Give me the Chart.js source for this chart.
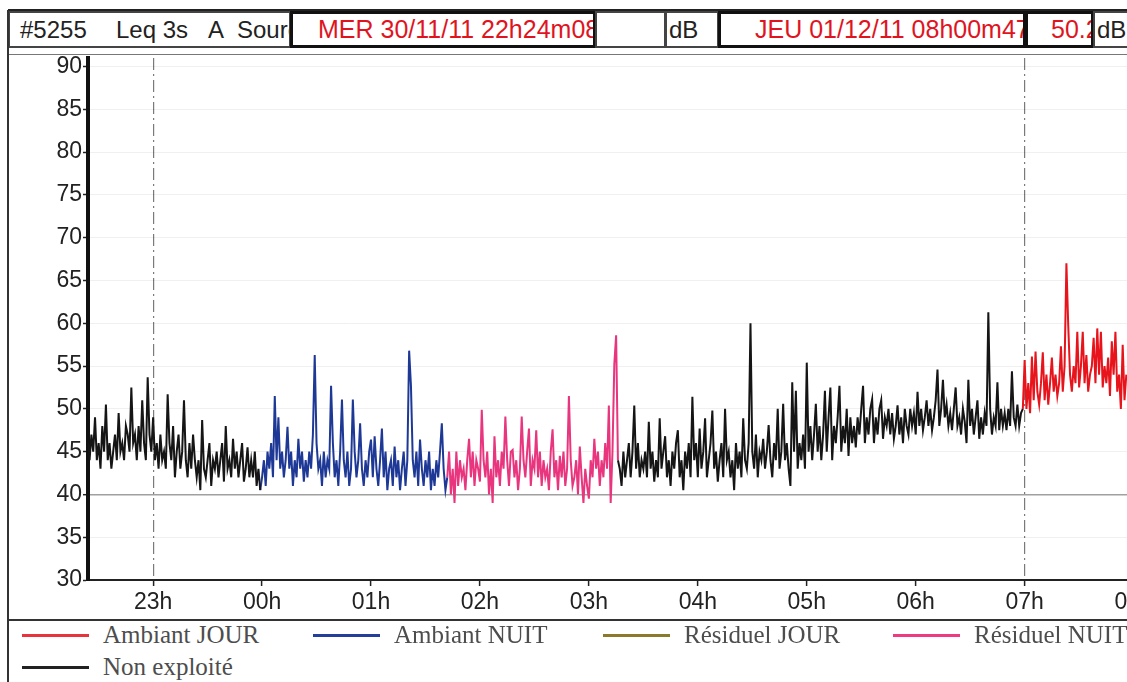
<!DOCTYPE html>
<html lang="fr">
<head>
    <meta charset="UTF-8">
    <title>#5255 Leq 3s A</title>
    <style>
        body {
            margin: 0;
            background: #ffffff;
            overflow: hidden;
            font-family: "Liberation Sans", Arial, sans-serif;
        }

        #page {
            position: relative;
            width: 1127px;
            height: 682px;
            overflow: hidden;
        }

        #chart {
            position: absolute;
            left: 0;
            top: 0;
        }

        .frame-left {
            position: absolute;
            left: 7px;
            top: 10px;
            width: 2px;
            height: 680px;
            background: #333;
        }

        .frame-top {
            position: absolute;
            left: 8px;
            top: 9px;
            width: 1200px;
            height: 3px;
            background: #222;
        }

        .plot-top {
            position: absolute;
            left: 8px;
            top: 54px;
            width: 1200px;
            height: 1px;
            background: #777;
        }

        .legend-sep {
            position: absolute;
            left: 8px;
            top: 619px;
            width: 1200px;
            height: 2px;
            background: #333;
        }

        .cell {
            position: absolute;
            top: 11px;
            height: 37px;
            box-sizing: border-box;
            border: 2px solid #444;
            overflow: hidden;
            white-space: pre;
            font-size: 24px;
            line-height: 33px;
            color: #222;
            background: #fff;
        }

        .cell.bold {
            border: 3px solid #111;
            line-height: 31px;
            font-size: 25px;
        }

        .cell b {
            position: absolute;
            top: 0;
            font-weight: normal;
        }

        .red {
            color: #e0141e;
        }

        .legend-item {
            position: absolute;
            font-family: "Liberation Serif", "Times New Roman", serif;
            font-size: 25px;
            color: #4d4d4d;
            white-space: nowrap;
        }

        .legend-item span {
            display: inline-block;
            width: 67px;
            height: 3px;
            vertical-align: middle;
            margin-right: 14px;
            position: relative;
            top: -2px;
        }
    </style>
</head>
<body>
<div id="page">
    <canvas id="chart" width="1170" height="620"></canvas>

    <div class="frame-top"></div>
    <div class="plot-top"></div>
    <div class="legend-sep"></div>

    <div class="cell" style="left:8px; width:283px;"><b style="left:10px">#5255</b><b style="left:106px">Leq 3s</b><b style="left:198px">A</b><b style="left:227px">Source</b></div>
    <div class="cell bold red" style="left:290px; width:306px; padding-left:25px;">MER 30/11/11 22h24m08</div>
    <div class="cell" style="left:595px; width:71px;"></div>
    <div class="cell" style="left:665px; width:54px; padding-left:2px;">dB</div>
    <div class="cell bold red" style="left:718px; width:308px; padding-left:34px;">JEU 01/12/11 08h00m47</div>
    <div class="cell bold red" style="left:1025px; width:69px; padding-left:23px;">50.2</div>
    <div class="cell" style="left:1093px; width:60px; padding-left:2px;">dB</div>

    <div class="frame-left"></div>

    <div class="legend-item" style="left:22px; top:621px;"><span style="background:#e8323c"></span>Ambiant JOUR</div>
    <div class="legend-item" style="left:313px; top:621px;"><span style="background:#22409a"></span>Ambiant NUIT</div>
    <div class="legend-item" style="left:603px; top:621px;"><span style="background:#8b7a2b"></span>Résiduel JOUR</div>
    <div class="legend-item" style="left:893px; top:621px;"><span style="background:#ee3a80"></span>Résiduel NUIT</div>
    <div class="legend-item" style="left:22px; top:653px;"><span style="background:#222"></span>Non exploité</div>
</div>

<script src="https://cdn.jsdelivr.net/npm/chart.js"></script>
<script>
    // time axis in minutes from midnight (22h24m08 -> 08h00m47)
    var xMin = -95.87;
    var xMax = 480.78;
    var hourTicks = [-60, 0, 60, 120, 180, 240, 300, 360, 420, 480];
    var hourLabels = ['23h', '00h', '01h', '02h', '03h', '04h', '05h', '06h', '07h', '08h'];
    var dashedHours = [-60, 420];
    var dbTicks = [30, 35, 40, 45, 50, 55, 60, 65, 70, 75, 80, 85, 90];

    // start minute of each period
    var segStart = [-96, 0, 103, 197, 420];

    // dB values, one per minute
    var nonExploiteSoir = [
        46, 44, 47, 45, 49, 44, 46, 43, 48, 45,
        50.5, 44, 46, 43, 45, 47, 44, 49.5, 45, 46,
        44, 48, 47, 45, 52.5, 46, 47, 44, 48, 45,
        51, 46, 44, 53.7, 47, 45, 49, 44, 46, 43,
        47, 44, 45, 43, 51.7, 46, 44, 48, 42, 45,
        47, 43, 45, 51, 44, 42, 46, 43, 47, 44,
        42, 44, 40.5, 48.7, 43, 42, 44, 46, 41, 44,
        43, 45, 42, 44, 46, 41.5, 48, 43, 44, 42,
        46.5, 43, 45, 42, 44, 46, 41.5, 43, 45.5, 42,
        44, 42, 45, 41, 43, 40.5
    ];

    var ambiantNuit = [
        42, 44, 41, 45, 43, 46, 42, 51.5, 44, 49,
        43, 45, 42, 44, 47.9, 43, 45, 41, 44, 42,
        46.5, 43, 45, 41.5, 44, 42, 45, 43, 47, 56.3,
        46, 43, 44, 41, 45, 42, 44, 43, 52.7, 46,
        42, 44, 41, 45, 51.1, 44, 42, 45, 41, 43,
        51.1, 45, 42, 44, 48.3, 43, 41, 44, 42, 45,
        46.4, 42, 46.8, 43, 41, 44, 47.7, 42, 45, 40.5,
        43, 44, 41, 45.6, 42, 44, 40.5, 43, 45, 41,
        44, 56.8, 52.7, 44, 42, 45, 41, 46.4, 43, 41,
        44, 42, 45, 40.5, 43, 41, 44, 42, 45, 48.3,
        43, 40.5, 42
    ];

    var residuelNuit = [
        45, 40, 43, 39, 45, 41, 44, 42, 43, 40.5,
        44, 46.5, 42, 45, 41, 44, 43, 41.5, 49.9, 44,
        42, 45, 40, 43, 39, 46.8, 42, 44, 41, 45,
        43, 49.1, 44, 41, 45, 45.2, 42, 44, 40.5, 43,
        49.1, 44, 42, 45, 47.7, 41, 44, 43, 47.5, 42,
        45, 41, 44, 42, 43, 40.5, 45, 47.6, 42, 44,
        40.5, 44.5, 42, 45, 41, 43, 51.5, 44, 41, 42,
        44, 40, 45.6, 42, 39, 43, 41, 39.5, 44, 42,
        46.5, 43, 45, 41, 44, 42, 46, 43, 50.4, 39,
        45, 55.2, 58.6, 44
    ];

    var nonExploiteMatin = [
        43, 41, 45, 42, 44, 46, 42, 45, 50.4, 43,
        46, 42, 44, 43, 45, 42, 48.5, 43, 45, 41.5,
        44, 42, 48.9, 43, 45, 46.8, 42, 44, 41, 45,
        43, 46, 47.5, 42, 44, 40.5, 45, 43, 46, 42,
        51.4, 44, 46, 42, 47.7, 43, 45, 48.9, 42, 44,
        46, 49.8, 43, 45, 41.5, 44, 46, 42, 50, 44,
        45, 42, 44, 40.5, 46, 43, 45, 42, 48.9, 44,
        43, 46, 60, 45, 43, 47, 42, 45, 44, 46.5,
        43, 45, 48.1, 44, 42, 46, 44, 50, 43, 45,
        50.6, 44, 46, 43, 41, 53.1, 45, 52.1, 43, 46,
        44, 47, 43, 55.4, 45, 48, 44, 47, 50.6, 45,
        48, 44, 47, 52.1, 45, 49, 52.5, 44, 48, 46,
        49, 52.7, 45, 48, 46, 50, 44.5, 49, 46, 48,
        45.5, 49, 47, 50, 52.7, 46, 49, 47, 50, 51.1,
        46, 49, 47, 50, 51, 46.5, 49, 48, 50, 47,
        49.5, 46.5, 48, 50.4, 47, 49, 46, 50, 48, 47,
        50, 48, 49.5, 47, 52, 48, 50, 47.5, 49, 51,
        48, 50, 47.5, 49, 51, 54.6, 48, 50, 53.4, 49,
        50.5, 48, 49.5, 47.5, 50, 52.5, 48, 49, 47, 50,
        48.5, 46, 53.4, 48, 50, 47, 49, 51, 46.5, 49,
        47, 49.5, 48, 61.3, 50, 47, 49, 48, 53.1, 47.5,
        50, 48, 49.5, 47.5, 50, 48, 54.4, 49, 48, 50.5,
        48, 49.5, 50
    ];

    var ambiantJour = [
        55.7, 50, 53, 49.5, 56.1, 51, 56.7, 52, 50.5, 53,
        56.6, 51, 54, 50.5, 53, 56, 52, 54, 51.5, 53,
        57.3, 52, 55, 67, 59.8, 54, 52, 55, 53, 59,
        52.5, 55, 59, 53, 56.3, 52, 54, 55, 58.3, 53,
        59.4, 54, 59, 52.5, 55, 53, 56, 51.5, 57.9, 54,
        59, 52, 54, 50, 57.5, 51, 54
    ];

    var segValues = [nonExploiteSoir, ambiantNuit, residuelNuit, nonExploiteMatin, ambiantJour];
    var segColors = ['#151515', '#1e3896', '#e8357d', '#151515', '#e8141c'];
    var segNames = ['Non exploité', 'Ambiant NUIT', 'Résiduel NUIT', 'Non exploité', 'Ambiant JOUR'];

    var datasets = [];
    var prev = null;
    segValues.forEach(function (vals, s) {
        var pts = prev ? [prev] : [];
        vals.forEach(function (v, i) {
            pts.push({ x: segStart[s] + i, y: v });
        });
        prev = pts[pts.length - 1];
        datasets.push({
            label: segNames[s],
            data: pts,
            borderColor: segColors[s],
            borderWidth: 2,
            pointRadius: 0,
            tension: 0,
            fill: false
        });
    });

    var tickFont = { family: '"Liberation Sans", Arial, sans-serif', size: 23 };

    new Chart(document.getElementById('chart').getContext('2d'), {
        type: 'line',
        data: { datasets: datasets },
        options: {
            responsive: false,
            animation: false,
            devicePixelRatio: 1,
            layout: { padding: { top: 58, right: 35, left: 0, bottom: 0 } },
            plugins: {
                legend: { display: false },
                tooltip: { enabled: false }
            },
            scales: {
                x: {
                    type: 'linear',
                    min: xMin,
                    max: xMax,
                    afterFit: function (s) { s.height = 40; },
                    afterBuildTicks: function (s) {
                        s.ticks = hourTicks.map(function (v) { return { value: v }; });
                    },
                    ticks: {
                        callback: function (v, i) { return hourLabels[i]; },
                        color: '#222',
                        font: tickFont,
                        padding: 3,
                        maxRotation: 0,
                        autoSkip: false
                    },
                    grid: {
                        color: function (ctx) {
                            return ctx.tick && dashedHours.indexOf(ctx.tick.value) >= 0 ? '#7a7a7a' : 'transparent';
                        },
                        lineWidth: 1.2,
                        tickColor: '#222',
                        tickLength: 6,
                        tickWidth: 1.5
                    },
                    border: { color: '#222', width: 2, dash: [12, 4, 2, 4] }
                },
                y: {
                    min: 30,
                    max: 91,
                    afterFit: function (s) { s.width = 88; },
                    afterBuildTicks: function (s) {
                        s.ticks = dbTicks.map(function (v) { return { value: v }; });
                    },
                    ticks: {
                        color: '#222',
                        font: tickFont,
                        padding: 1
                    },
                    grid: {
                        color: function (ctx) {
                            return ctx.tick && ctx.tick.value === 40 ? '#a0a0a0' : 'rgba(0,0,0,0.06)';
                        },
                        lineWidth: function (ctx) {
                            return ctx.tick && ctx.tick.value === 40 ? 1.4 : 1;
                        },
                        tickColor: '#222',
                        tickLength: 5,
                        tickWidth: 1.5
                    },
                    border: { color: '#111', width: 4 }
                }
            }
        }
    });
</script>
</body>
</html>
